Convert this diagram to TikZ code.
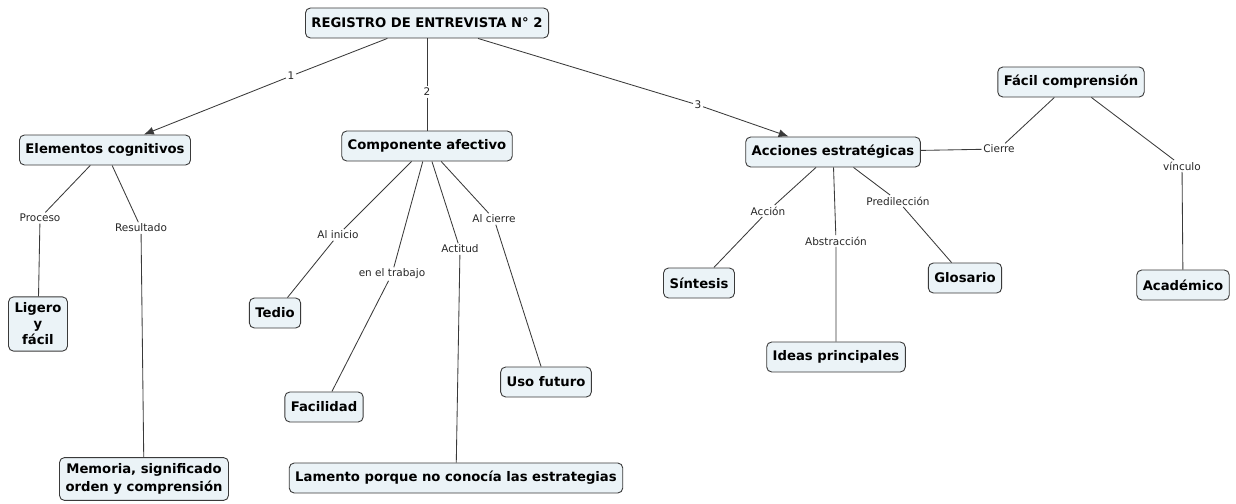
\documentclass[tikz,border=0pt]{standalone}
\usepackage{fontspec}
\setmainfont{DejaVu Sans}
\usetikzlibrary{arrows.meta}
\definecolor{cfill}{HTML}{EBF3F7}
\definecolor{cline}{HTML}{3A3A3A}
\tikzset{
  concept/.style={draw=cline, fill=cfill, line width=0.9pt, rounded corners=5pt,
    font=\fontsize{13.2}{15}\selectfont\bfseries, inner xsep=6pt, inner ysep=3pt,
    minimum height=30pt, align=center, text=black},
  tall/.style={inner ysep=6pt},
  lbl/.style={font=\fontsize{10.5}{12}\selectfont, inner sep=1.5pt, text=black!85},
  link/.style={draw=cline, line width=0.85pt},
  arr/.style={link, -{Latex[length=10pt,width=8pt]}}
}
\begin{document}
\begin{tikzpicture}[x=1pt,y=-1pt]
\useasboundingbox (0,0) rectangle (1236,503);
% concepts
\node[concept] (title) at (427,23) {REGISTRO DE ENTREVISTA N° 2};
\node[concept] (cog) at (105,150) {Elementos cognitivos};
\node[concept] (afe) at (427,146) {Componente afectivo};
\node[concept] (acc) at (833,152) {Acciones estratégicas};
\node[concept] (fac) at (1071,82) {Fácil comprensión};
\node[concept, tall] (lig) at (38,324) {Ligero\\[1pt]y\\[1pt]fácil};
\node[concept] (ted) at (275,313) {Tedio};
\node[concept] (faci) at (324,407) {Facilidad};
\node[concept] (uso) at (546,382) {Uso futuro};
\node[concept] (lam) at (456,478) {Lamento porque no conocía las estrategias};
\node[concept, tall] (mem) at (144,479) {Memoria, significado\\[3pt]orden y comprensión};
\node[concept] (sin) at (699,283) {Síntesis};
\node[concept] (glo) at (965,278) {Glosario};
\node[concept] (ide) at (836,357) {Ideas principales};
\node[concept] (aca) at (1183,285) {Académico};
% linking phrases
\node[lbl] (l1) at (291,76) {1};
\node[lbl] (l2) at (427,92) {2};
\node[lbl] (l3) at (698,105) {3};
\node[lbl] (lpro) at (40,218) {Proceso};
\node[lbl] (lres) at (141,228) {Resultado};
\node[lbl] (lini) at (338,235) {Al inicio};
\node[lbl] (ltra) at (392,274) {en el trabajo};
\node[lbl] (lact) at (460,249) {Actitud};
\node[lbl] (lcie) at (494,219) {Al cierre};
\node[lbl] (lacc) at (768,211) {Acción};
\node[lbl] (labs) at (836,241) {Abstracción};
\node[lbl] (lpre) at (898,201) {Predilección};
\node[lbl] (lcier) at (999,149) {Cierre};
\node[lbl] (lvin) at (1182,166) {vínculo};
% connectors
\draw[link] (title) -- (l1); \draw[arr] (l1) -- (cog);
\draw[link] (title) -- (l2) -- (afe);
\draw[link] (title) -- (l3); \draw[arr] (l3) -- (acc);
\draw[link] (cog) -- (lpro) -- (lig);
\draw[link] (cog) -- (lres) -- (mem);
\draw[link] (afe) -- (lini) -- (ted);
\draw[link] (afe) -- (ltra) -- (faci);
\draw[link] (afe) -- (lact) -- (lam);
\draw[link] (afe) -- (lcie) -- (uso);
\draw[link] (acc) -- (lacc) -- (sin);
\draw[link] (acc) -- (labs) -- (ide);
\draw[link] (acc) -- (lpre) -- (glo);
\draw[link] (acc) -- (lcier) -- (fac);
\draw[link] (fac) -- (lvin) -- (aca);
\end{tikzpicture}
\end{document}
